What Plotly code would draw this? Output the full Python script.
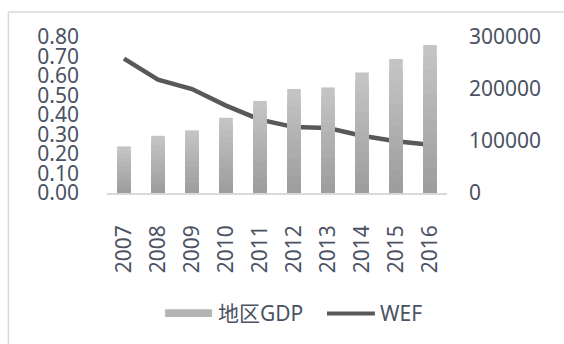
import plotly.graph_objects as go

years = ["2007", "2008", "2009", "2010", "2011", "2012", "2013", "2014", "2015", "2016"]
gdp = [89600, 110000, 120400, 144800, 176900, 200000, 203100, 231900, 257700, 284600]
wef = [0.689, 0.581, 0.533, 0.448, 0.376, 0.338, 0.333, 0.294, 0.265, 0.248]
left_ticks = [0.0, 0.1, 0.2, 0.3, 0.4, 0.5, 0.6, 0.7, 0.8]
right_ticks = [0, 100000, 200000, 300000]
legend_names = ["地区GDP", "WEF"]

FONT = "Noto Sans, Noto Sans CJK SC, sans-serif"
TXT = "#4a5263"
LINE_COLOR = "#595959"

fig = go.Figure()

# gradient-looking bars: overlayed layers, light at top, darker toward the bottom
N = 12
light = (196, 196, 196)
dark = (158, 158, 158)
for k in range(N):
    t = k / (N - 1)
    c = tuple(round(light[i] + (dark[i] - light[i]) * t) for i in range(3))
    frac = (N - k) / N
    fig.add_trace(go.Bar(
        x=years, y=[v * frac for v in gdp], yaxis="y2",
        marker=dict(color="rgb(%d,%d,%d)" % c, line=dict(width=0)),
        name=legend_names[0], showlegend=False,
        hoverinfo="skip" if k else None,
    ))

fig.add_trace(go.Scatter(
    x=years, y=wef, yaxis="y", mode="lines", name=legend_names[1],
    line=dict(color=LINE_COLOR, width=4.5), showlegend=False,
))

# custom legend (wide swatches like the original)
legend_y = -0.77
shapes = [
    dict(type="line", xref="paper", yref="paper", x0=-0.29, x1=1.4, y0=1.16, y1=1.16,
         line=dict(color="#d9d9d9", width=1.5), layer="below"),
    dict(type="line", xref="paper", yref="paper", x0=-0.29, x1=-0.29, y0=1.16, y1=-1.1,
         line=dict(color="#d9d9d9", width=1.5), layer="below"),
    dict(type="rect", xref="paper", yref="paper", x0=0.171, x1=0.309, y0=-0.745, y1=-0.795,
         fillcolor="#b4b4b4", line=dict(width=0)),
    dict(type="line", xref="paper", yref="paper", x0=0.647, x1=0.788, y0=-0.773, y1=-0.773,
         line=dict(color=LINE_COLOR, width=4)),
]
annotations = [
    dict(text=legend_names[0], xref="paper", yref="paper", x=0.322, y=legend_y,
         xanchor="left", yanchor="middle", showarrow=False,
         font=dict(size=21, color=TXT, family=FONT)),
    dict(text=legend_names[1], xref="paper", yref="paper", x=0.797, y=legend_y,
         xanchor="left", yanchor="middle", showarrow=False,
         font=dict(size=21, color=TXT, family=FONT)),
]

fig.update_layout(
    width=564, height=344,
    margin=dict(l=107, r=117, t=37, b=151),
    paper_bgcolor="white", plot_bgcolor="white",
    font=dict(family=FONT, size=21, color=TXT),
    barmode="overlay", bargap=0.6,
    showlegend=False,
    xaxis=dict(
        type="category", tickangle=-90, showgrid=False, zeroline=False,
        showline=True, linecolor="#d9d9d9", linewidth=1.5, ticks="",
        ticklabelstandoff=22, tickfont=dict(size=21, color=TXT),
    ),
    yaxis=dict(
        range=[0, 0.8], tickvals=left_ticks, tickformat=".2f",
        showgrid=False, zeroline=False, showline=False, ticks="",
        ticklabelstandoff=27, tickfont=dict(size=21, color=TXT),
    ),
    yaxis2=dict(
        range=[0, 300000], tickvals=right_ticks, tickformat="d",
        overlaying="y", side="right",
        showgrid=False, zeroline=False, showline=False, ticks="",
        ticklabelstandoff=21, tickfont=dict(size=21, color=TXT),
    ),
    shapes=shapes,
    annotations=annotations,
)

fig.write_html("out.html")
